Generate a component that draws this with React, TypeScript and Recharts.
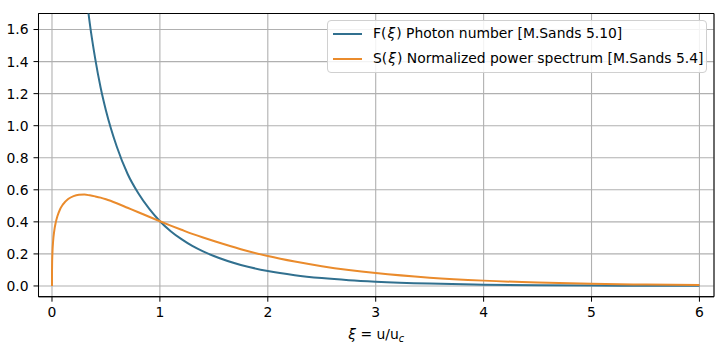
import React from "react";
import {
  LineChart,
  Line,
  XAxis,
  YAxis,
  CartesianGrid,
  Legend,
  ReferenceArea,
  Label,
} from "recharts";

const XI = [0, 0.0002, 0.001, 0.003, 0.005, 0.01, 0.02, 0.035, 0.05, 0.075, 0.1, 0.15, 0.2, 0.25, 0.3, 0.35, 0.4, 0.45, 0.5, 0.6, 0.7, 0.8, 0.9, 1.0, 1.1, 1.2, 1.3, 1.4, 1.5, 1.75, 2.0, 2.25, 2.5, 2.75, 3.0, 3.5, 4.0, 4.5, 5.0, 5.5, 6.0];
const S_POWER = [0, 0.0777, 0.1321, 0.1889, 0.222, 0.276, 0.3392, 0.3966, 0.4348, 0.4788, 0.5073, 0.5421, 0.5607, 0.5687, 0.57, 0.5655, 0.5588, 0.551, 0.5408, 0.516, 0.4881, 0.4602, 0.4317, 0.4038, 0.3765, 0.3504, 0.325, 0.302, 0.2803, 0.2295, 0.1867, 0.152, 0.1234, 0.0999, 0.0806, 0.0519, 0.0333, 0.0212, 0.0135, 0.0085, 0.0053];
const F_PHOTON = [null, null, null, null, null, null, null, null, null, null, null, null, 2.804, 2.3, 1.93, 1.64, 1.42, 1.24, 1.095, 0.87, 0.70, 0.578, 0.482, 0.4038, 0.342, 0.292, 0.25, 0.216, 0.1869, 0.1311, 0.0934, 0.0675, 0.0494, 0.0363, 0.0269, 0.0148, 0.0083, 0.0047, 0.0027, 0.0015, 0.0009];

const X_TICKS = [0, 1, 2, 3, 4, 5, 6];
const Y_TICKS = [0, 0.2, 0.4, 0.6, 0.8, 1.0, 1.2, 1.4, 1.6];
const X_DOMAIN: [number, number] = [-0.125, 6.135];
const Y_DOMAIN: [number, number] = [-0.067, 1.7];

const LEGEND_ROWS = [
  { pre: "F(", sym: "ξ", post: ") Photon number [M.Sands 5.10]" },
  { pre: "S(", sym: "ξ", post: ") Normalized power spectrum [M.Sands 5.4]" },
];

const BLUE = "#31708f";
const ORANGE = "#ea8b2c";
const FONT = "'DejaVu Sans', sans-serif";

const data = XI.map((x, i) => ({ xi: x, S: S_POWER[i], F: F_PHOTON[i] }));

const LegendBox = () => (
  <div
    style={{
      width: 378,
      height: 51,
      border: "1px solid #d0d0d0",
      borderRadius: 4,
      background: "rgba(255,255,255,0.85)",
      fontFamily: FONT,
      fontSize: 13.9,
      color: "#000",
      position: "relative",
    }}
  >
    {LEGEND_ROWS.map((r, i) => (
      <div key={i} style={{ position: "absolute", left: 0, top: (i === 0 ? 13 : 38) - 10, height: 20, width: 378 }}>
        <div style={{ position: "absolute", left: 5, top: 9, width: 29, height: 2, background: i === 0 ? BLUE : ORANGE }} />
        <div style={{ position: "absolute", left: 45, top: 1, whiteSpace: "nowrap", lineHeight: "17px" }}>
          {r.pre}
          <span style={{ fontStyle: "italic", padding: "0 1px" }}>{r.sym}</span>
          {r.post}
        </div>
      </div>
    ))}
  </div>
);

const XLabel = (props: any) => {
  const vb = props.viewBox || {};
  const cx = vb.x + vb.width / 2;
  const y = vb.y + 42.3;
  return (
    <text x={cx} y={y} textAnchor="middle" fontFamily={FONT} fontSize={13.9} fill="#000">
      <tspan fontStyle="italic">ξ</tspan>
      <tspan> = u/u</tspan>
      <tspan fontStyle="italic" fontSize={9.7} dy={3}>c</tspan>
    </text>
  );
};

export default function App() {
  return (
    <div style={{ position: "absolute", left: 0, top: 0, width: 722, height: 349, background: "#fff" }}>
      <LineChart
        width={722}
        height={349}
        data={data}
        margin={{ top: 13.5, right: 8, bottom: 22.3, left: 0 }}
      >
        <CartesianGrid stroke="#b0b0b0" strokeWidth={1.1} />
        <XAxis
          dataKey="xi"
          type="number"
          domain={X_DOMAIN}
          ticks={X_TICKS}
          allowDataOverflow
          height={30}
          tickSize={5}
          tickMargin={5.8}
          stroke="#000"
          tick={{ fill: "#000", fontFamily: FONT, fontSize: 13.9 }}
          tickLine={{ stroke: "#000" }}
        >
          <Label content={<XLabel />} />
        </XAxis>
        <YAxis
          type="number"
          domain={Y_DOMAIN}
          ticks={Y_TICKS}
          allowDataOverflow
          width={38.5}
          tickSize={5}
          tickMargin={5}
          stroke="#000"
          tickFormatter={(v: number) => v.toFixed(1)}
          tick={{ fill: "#000", fontFamily: FONT, fontSize: 13.9 }}
          tickLine={{ stroke: "#000" }}
        />
        <Line
          dataKey="F"
          type="monotone"
          stroke={BLUE}
          strokeWidth={2}
          dot={false}
          isAnimationActive={false}
          connectNulls={false}
        />
        <Line
          dataKey="S"
          type="monotone"
          stroke={ORANGE}
          strokeWidth={2}
          dot={false}
          isAnimationActive={false}
        />
        <ReferenceArea
          x1={X_DOMAIN[0]}
          x2={X_DOMAIN[1]}
          y1={Y_DOMAIN[0]}
          y2={Y_DOMAIN[1]}
          fill="none"
          fillOpacity={0}
          stroke="#000"
          strokeWidth={1}
          ifOverflow="visible"
        />
        <Legend
          layout="vertical"
          align="center"
          verticalAlign="middle"
          content={() => <LegendBox />}
          wrapperStyle={{ position: "absolute", left: 327, top: 20, width: 380, height: 53 }}
        />
      </LineChart>
    </div>
  );
}
